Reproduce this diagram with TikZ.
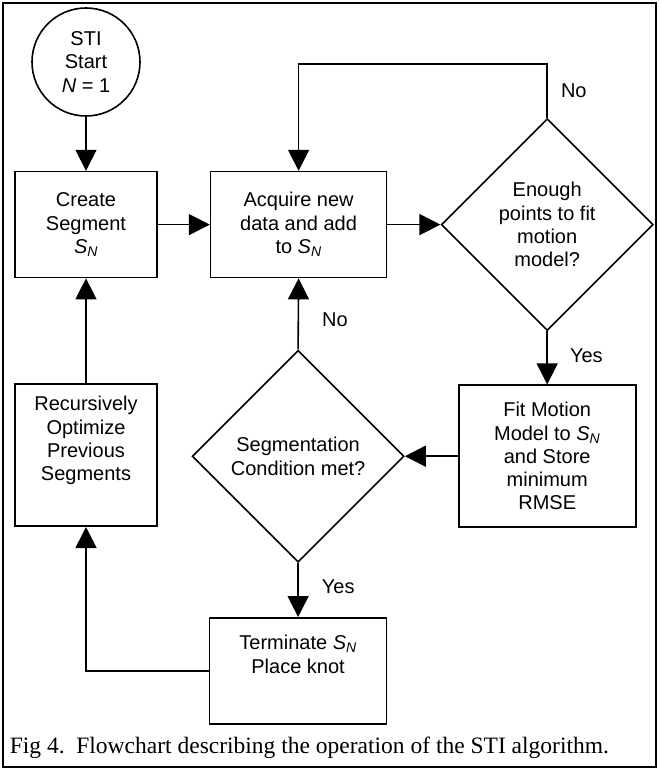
\documentclass[tikz,border=0pt]{standalone}
\usepackage{fontspec}
\setmainfont{Liberation Sans}
\newfontfamily\capfont{Liberation Serif}
\usetikzlibrary{shapes.geometric, positioning, arrows.meta}
\newcommand{\SN}{\textit{S}\textsubscript{\textit{N}}}
\tikzset{
    arr/.style={-{Triangle[length=21pt,width=21pt]}},  % Big solid heads
    every node/.style={font=\fontsize{20}{23.3}\selectfont, align=center},
    node distance = 53pt,                                % Gap between blocks
    every path/.style={line width=1.6pt},
    block/.style={draw, rectangle, inner sep=0pt, minimum width=142pt, minimum height=106pt},
    decide/.style={draw, diamond, aspect=1, inner sep=0pt, minimum size=212pt},
    startnode/.style={draw, circle, inner sep=0pt, minimum size=108pt},
    lbl/.style={inner sep=0pt}
}
\begin{document}
\begin{tikzpicture}
            \useasboundingbox (0,0) rectangle (659pt,-770pt);
            \draw[line width=2.4pt] (3pt,-3pt) rectangle (656pt,-767pt);

            % Define nodes
            \node [startnode] (start) at (86pt,-62pt) {STI\\Start\\\textit{N} = 1};
            \node [block, below = 54pt of start] (create) {Create\\Segment\\\SN};
            \node [block, minimum width=176pt, right = 52pt of create] (acquire) {Acquire new\\data and add\\to \SN};
            \node [decide, right = of acquire] (enough) {Enough\\points to fit\\motion\\model?};
            \node [block, minimum width=177pt, minimum height=142pt, below = of enough] (fit) {Fit Motion\\Model to \SN\\and Store\\minimum\\RMSE};
            \node [decide, left = of fit] (seg) {Segmentation\\Condition met?};
            \node [block, minimum width=177pt, below = 54pt of seg] (term) {Terminate \SN\\Place knot\\[10pt]\mbox{}};
            \node [block, minimum height=142pt, below = 105pt of create] (recur) {Recursively\\Optimize\\Previous\\Segments\\[10pt]\mbox{}};

            % Draw transitions
            \draw[arr] (start) -- (create);
            \draw[arr] (create) -- (acquire);
            \draw[arr] (acquire) -- (enough.west);
            \draw[arr] (enough.north) -- node[lbl, right=13pt] {No} ++(0,54pt) -| (acquire.north);
            \draw[arr] (enough.south) -- node[lbl, right=22pt, yshift=2pt] {Yes} (fit.north);
            \draw[arr] (fit.west) -- (seg.east);
            \draw[arr] (seg.north) -- node[lbl, right=23pt, yshift=-6pt] {No} (acquire.south);
            \draw[arr] (seg.south) -- node[lbl, right=23pt, yshift=3pt] {Yes} (term.north);
            \draw[arr] (term.west) -| (recur.south);
            \draw[arr] (recur.north) -- (create.south);

            % Caption
            \node [anchor=west, inner sep=0pt, font=\capfont\fontsize{23.5}{26}\selectfont] (cap) at (9pt,-748pt) {Fig 4.\ \ Flowchart describing the operation of the STI algorithm.};
        \end{tikzpicture}
\end{document}
